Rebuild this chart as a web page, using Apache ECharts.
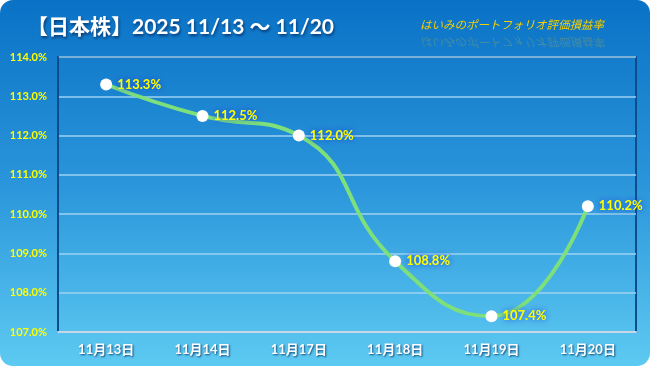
<!DOCTYPE html>
<html><head><meta charset="utf-8">
<script src="https://cdn.jsdelivr.net/npm/echarts@6/dist/echarts.min.js"></script>
<style>html,body{margin:0;padding:0;background:#fff;}#c{width:652px;height:367px;}</style>
</head><body><div id="c"></div>
<script>
const categories = ['11月13日','11月14日','11月17日','11月18日','11月19日','11月20日'];
const values = [113.3, 112.5, 112.0, 108.8, 107.4, 110.2];
const yMin = 107, yMax = 114, yStep = 1;
const titleText = '【日本株】2025 11/13 ～ 11/20';
const subText = 'はいみのポートフォリオ評価損益率';

const chart = echarts.init(document.getElementById('c'));
chart.setOption({
  animation: false,
  graphic: [
    { type: 'rect', z: -10, silent: true, shape: { x: 0, y: 0, width: 650, height: 366, r: 13 },
      style: { fill: new echarts.graphic.LinearGradient(0,0,0,1,[
        {offset:0,color:'#0a72c6'},{offset:0.5,color:'#2a95da'},{offset:1,color:'#5dcaf2'}]) } },
    { type: 'text', left: 27, top: 17, z: 10,
      style: { text: titleText, fill: '#ffffff', font: 'bold 21px Lato, "Noto Sans CJK JP"',
        textShadowColor: 'rgba(0,30,80,0.7)', textShadowBlur: 3, textShadowOffsetX: 1, textShadowOffsetY: 2 } },
    { type: 'text', x: 420, y: 19, z: 10,
      style: { text: subText, font: 'italic 11.5px "Noto Sans CJK JP"', fill: '#f5d000' } },
    { type: 'text', x: 420, y: 48, scaleY: -1, z: 9, silent: true,
      style: { text: subText, font: 'italic 11.5px "Noto Sans CJK JP"', fill: 'rgba(240,200,40,0.22)' } }
  ],
  grid: { left: 58, right: 16, top: 57, bottom: 35, show: true, borderColor: '#0b4d8c', borderWidth: 2, backgroundColor: 'transparent' },
  xAxis: {
    type: 'category', data: categories, boundaryGap: true,
    axisLine: { lineStyle: { color: '#c6d6e4', width: 2 } },
    axisTick: { inside: true, length: 4, lineStyle: { color: '#c6d6e4' } },
    axisLabel: { color: '#ffffff', fontWeight: 'bold', fontSize: 13, margin: 11,
      fontFamily: 'Lato, "Noto Sans CJK JP"',
      textShadowColor: 'rgba(0,40,90,0.8)', textShadowBlur: 2, textShadowOffsetX: 1, textShadowOffsetY: 1 }
  },
  yAxis: {
    type: 'value', min: yMin, max: yMax, interval: yStep,
    axisLine: { show: true, lineStyle: { color: '#0b4d8c', width: 2 } },
    axisTick: { show: false },
    splitLine: { lineStyle: { color: '#9fd2f2', width: 1.5 } },
    axisLabel: { color: '#ffff00', fontWeight: 'bold', fontSize: 11, margin: 11,
      fontFamily: 'Lato, "Noto Sans CJK JP"',
      formatter: v => v.toFixed(1) + '%' }
  },
  series: [{
    type: 'line', data: values, smooth: 0.5,
    lineStyle: { color: '#7ee07a', width: 4 },
    symbol: 'circle', symbolSize: 12,
    itemStyle: { color: '#ffffff' },
    label: { show: true, position: 'right', distance: 5, color: '#ffff00', fontWeight: 'bold', fontSize: 13,
      fontFamily: 'Lato, "Noto Sans CJK JP"',
      formatter: p => p.value.toFixed(1) + '%',
      textShadowColor: '#1438d8', textShadowBlur: 6 }
  }]
});
</script></body></html>
